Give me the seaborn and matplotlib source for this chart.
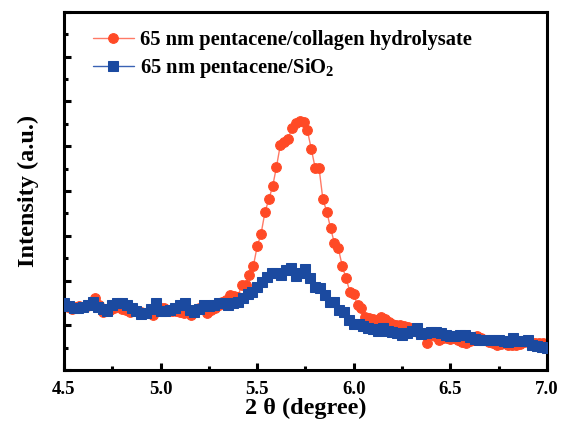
import numpy as np
import pandas as pd
import matplotlib
matplotlib.use("Agg")
import matplotlib.pyplot as plt
import seaborn as sns
from matplotlib.ticker import MultipleLocator, NullFormatter

# --- data (2 theta in degrees, intensity in a.u.) ---
collagen_2theta = np.round(np.arange(4.50, 7.0001, 0.02), 3)
collagen_int = [
    1.47, 1.41, 1.36, 1.41, 1.43, 1.41, 1.43, 1.45, 1.61, 1.45,
    1.30, 1.32, 1.34, 1.39, 1.43, 1.36, 1.34, 1.30, 1.32, 1.32,
    1.30, 1.27, 1.27, 1.23, 1.34,
    1.39, 1.39, 1.34, 1.32, 1.32, 1.30, 1.27, 1.30, 1.23, 1.34,
    1.39, 1.36, 1.27, 1.34, 1.39, 1.45, 1.52, 1.56, 1.68, 1.66,
    1.64, 1.90, 1.90, 2.12, 2.32,
    2.76, 3.04, 3.52, 3.81, 4.10, 4.54, 5.03, 5.09, 5.16, 5.40,
    5.51, 5.57, 5.55, 5.35, 4.94, 4.52, 4.52, 3.82, 3.54, 3.17,
    2.83, 2.72, 2.33, 2.05, 1.75,
    1.69, 1.45, 1.38, 1.19, 1.16, 1.14, 1.12, 1.18, 1.14, 1.07,
    1.03, 1.01, 1.01, 0.98, 0.96, 0.94, 0.89, 0.83, 0.80, 0.60,
    0.80, 0.76, 0.67, 0.72, 0.72,
    0.69, 0.72, 0.67, 0.63, 0.60, 0.65, 0.67, 0.76, 0.72, 0.67,
    0.63, 0.60, 0.56, 0.58, 0.60, 0.56, 0.56, 0.56, 0.58, 0.63,
    0.63, 0.60, 0.60, 0.60, 0.60, 0.58,
]

sio2_2theta = np.round(np.arange(4.50, 7.0001, 0.025), 3)
sio2_int = [
    1.50, 1.43, 1.39, 1.39, 1.41, 1.45, 1.52, 1.41, 1.36, 1.32,
    1.45, 1.50, 1.50, 1.45, 1.39, 1.32, 1.25, 1.27, 1.36, 1.50,
    1.32, 1.32, 1.34, 1.39, 1.45, 1.50, 1.34, 1.30, 1.36, 1.45,
    1.43, 1.45, 1.50, 1.49, 1.45, 1.50, 1.53, 1.60, 1.71, 1.75,
    1.86, 1.97, 2.08, 2.16, 2.16, 2.12, 2.23, 2.27, 2.10, 2.16,
    2.25, 2.05, 1.86, 1.83, 1.68, 1.53, 1.53, 1.34, 1.30, 1.12,
    1.04, 1.04, 0.98, 0.93, 0.92, 0.87, 0.94, 0.87, 0.85, 0.83,
    0.78, 0.83, 0.87, 0.94, 0.80, 0.83, 0.85, 0.85, 0.83, 0.78,
    0.76, 0.76, 0.78, 0.78, 0.74, 0.69, 0.67, 0.67, 0.67, 0.67,
    0.67, 0.65, 0.63, 0.72, 0.65, 0.65, 0.67, 0.56, 0.54, 0.51,
    0.49,
]

label_collagen = "65 nm pentacene/collagen hydrolysate"
label_sio2 = "65 nm pentacene/SiO$_\\mathbf{2}$"

df_c = pd.DataFrame({"theta": collagen_2theta, "intensity": collagen_int})
df_s = pd.DataFrame({"theta": sio2_2theta, "intensity": sio2_int})

sns.set_style("ticks")
plt.rcParams["font.family"] = ["Liberation Serif", "DejaVu Serif"]
plt.rcParams["font.weight"] = "bold"
plt.rcParams["text.color"] = "black"
plt.rcParams["axes.labelcolor"] = "black"
plt.rcParams["xtick.color"] = "black"
plt.rcParams["ytick.color"] = "black"
plt.rcParams["mathtext.fontset"] = "custom"
plt.rcParams["mathtext.rm"] = "Liberation Serif:bold"
plt.rcParams["mathtext.bf"] = "Liberation Serif:bold"

fig = plt.figure(figsize=(5.61, 4.22), dpi=100)
ax = fig.add_axes([0.114, 0.123, 0.861, 0.849])

red = "#FF4A26"
blue = "#1B4AA0"

sns.lineplot(data=df_c, x="theta", y="intensity", ax=ax, color="#FF7A66",
             linewidth=1.0, marker="o", markersize=7, markerfacecolor=red,
             markeredgecolor=red, label=label_collagen, zorder=2)
sns.lineplot(data=df_s, x="theta", y="intensity", ax=ax, color="#3A62B4",
             linewidth=1.0, marker="s", markersize=7, markerfacecolor=blue,
             markeredgecolor=blue, label=label_sio2, zorder=3)

ax.set_xlim(4.5, 7.0)
ax.set_ylim(0, 8)
ax.xaxis.set_major_locator(MultipleLocator(0.5))
ax.xaxis.set_minor_locator(MultipleLocator(0.25))
ax.yaxis.set_major_locator(MultipleLocator(1))
ax.yaxis.set_minor_locator(MultipleLocator(0.5))
ax.yaxis.set_major_formatter(NullFormatter())
ax.xaxis.set_major_formatter(matplotlib.ticker.FormatStrFormatter("%.1f"))

for s in ax.spines.values():
    s.set_linewidth(2.2)
    s.set_color("black")
    s.set_visible(True)

ax.tick_params(which="major", direction="in", length=5, width=2.2,
               labelsize=13.5, pad=8)
ax.tick_params(which="minor", direction="in", length=3, width=2.2)
ax.tick_params(axis="y", which="both", left=True, right=False)
ax.tick_params(axis="x", which="both", bottom=True, top=False)

ax.set_xlabel("2 θ (degree)", fontsize=17.5, fontweight="bold", labelpad=0)
ax.set_ylabel("Intensity (a.u.)", fontsize=17.5, fontweight="bold", labelpad=10)

leg = ax.legend(loc="upper left", frameon=False, fontsize=14.8,
                handlelength=2.0, handletextpad=0.3, borderaxespad=0.3,
                labelspacing=0.3, bbox_to_anchor=(0.03, 0.99))
for t in leg.get_texts():
    t.set_fontweight("bold")

fig.savefig("out.png", dpi=100)
